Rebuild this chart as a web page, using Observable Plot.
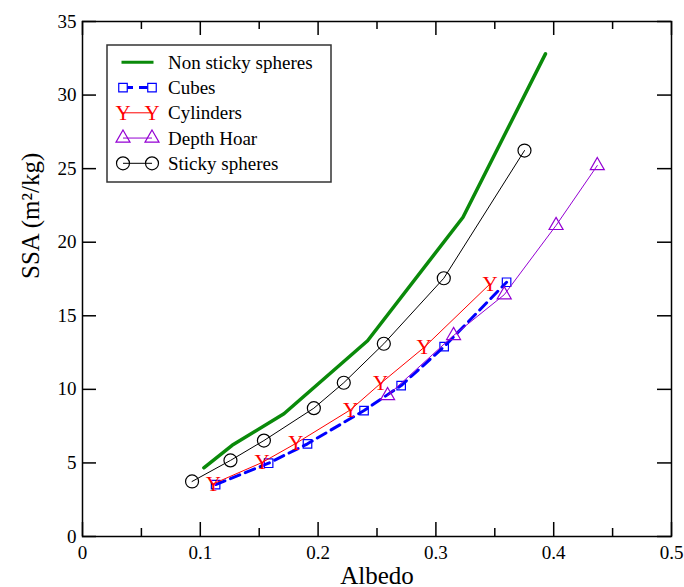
<!DOCTYPE html>
<html><head><meta charset="utf-8">
<script src="https://cdn.jsdelivr.net/npm/d3@7"></script>
<script src="https://cdn.jsdelivr.net/npm/@observablehq/plot@0.6"></script>
<style>
body{margin:0;background:#fff;}
#wrap{position:relative;width:684px;height:587px;overflow:hidden;}
</style></head><body>
<div id="wrap"></div>
<script>
// ---- tick values ----
const xTicks = [0, 0.1, 0.2, 0.3, 0.4, 0.5];
const xMinorTicks = [0.05, 0.15, 0.25, 0.35, 0.45];
const yTicks = [0, 5, 10, 15, 20, 25, 30, 35];

// ---- series ----
const seriesNames = ["Non sticky spheres", "Cubes", "Cylinders", "Depth Hoar", "Sticky spheres"];

const nonStickyAlbedo = [0.103, 0.127, 0.171, 0.242, 0.323, 0.393];
const nonStickySSA    = [4.67, 6.2, 8.34, 13.3, 21.7, 32.8];

const cubesAlbedo = [0.113, 0.158, 0.191, 0.239, 0.2705, 0.307, 0.360];
const cubesSSA    = [3.53, 4.98, 6.30, 8.56, 10.26, 12.91, 17.28];

const cylAlbedo = [0.111, 0.1525, 0.181, 0.2275, 0.253, 0.290, 0.346];
const cylSSA    = [3.58, 5.03, 6.32, 8.61, 10.4, 12.85, 17.17];

const hoarAlbedo = [0.259, 0.315, 0.358, 0.402, 0.437];
const hoarSSA    = [9.58, 13.66, 16.43, 21.14, 25.21];

const stickyAlbedo = [0.093, 0.1256, 0.154, 0.1964, 0.2218, 0.2558, 0.3067, 0.3752];
const stickySSA    = [3.74, 5.17, 6.52, 8.72, 10.45, 13.10, 17.55, 26.23];

const colors = {green: "#0a8a0a", blue: "#0000ff", red: "#ff0000", violet: "#9400d3", black: "#000000"};

const toRows = (xs, ys) => xs.map((x, i) => ({albedo: x, ssa: ys[i]}));
const nonSticky = toRows(nonStickyAlbedo, nonStickySSA);
const cubes = toRows(cubesAlbedo, cubesSSA);
const cyl = toRows(cylAlbedo, cylSSA);
const hoar = toRows(hoarAlbedo, hoarSSA);
const sticky = toRows(stickyAlbedo, stickySSA);

const W = 684, H = 587, mL = 82, mR = 13, mT = 21, mB = 51;
const fw = W - mL - mR, fh = H - mT - mB;
const major = 14, minor = 8;
const serif = "'Liberation Serif', 'Times New Roman', serif";

const chart = Plot.plot({
  width: W, height: H,
  marginLeft: mL, marginRight: mR, marginTop: mT, marginBottom: mB,
  style: {fontFamily: serif, fontSize: "19px", background: "white", color: "black"},
  x: {domain: [0, 0.5]},
  y: {domain: [0, 35]},
  marks: [
    // ticks (inward, on all four sides)
    Plot.tickX(xTicks, {x: d => d, insetTop: fh - major, stroke: "black", strokeWidth: 1.5}),
    Plot.tickX(xTicks, {x: d => d, insetBottom: fh - major, stroke: "black", strokeWidth: 1.5}),
    Plot.tickX(xMinorTicks, {x: d => d, insetTop: fh - minor, stroke: "black", strokeWidth: 1.5}),
    Plot.tickX(xMinorTicks, {x: d => d, insetBottom: fh - minor, stroke: "black", strokeWidth: 1.5}),
    Plot.tickY(yTicks, {y: d => d, insetRight: fw - major, stroke: "black", strokeWidth: 1.5}),
    Plot.tickY(yTicks, {y: d => d, insetLeft: fw - major, stroke: "black", strokeWidth: 1.5}),
    Plot.axisX({ticks: xTicks, tickSize: 0, tickPadding: 9, label: null, tickFormat: d => String(d)}),
    Plot.axisY({ticks: yTicks, tickSize: 0, tickPadding: 6, label: null, tickFormat: d => String(d)}),
    Plot.text(["Albedo"], {frameAnchor: "bottom", lineAnchor: "bottom", dy: 47, fontSize: 25}),
    Plot.text(["SSA (m\u00B2/kg)"], {frameAnchor: "left", rotate: -90, dx: -52, lineAnchor: "middle", fontSize: 25}),
    // series
    Plot.line(nonSticky, {x: "albedo", y: "ssa", stroke: colors.green, strokeWidth: 3.5}),
    Plot.line(cubes, {x: "albedo", y: "ssa", stroke: colors.blue, strokeWidth: 3, strokeDasharray: "10,6"}),
    Plot.dot(cubes, {x: "albedo", y: "ssa", symbol: "square", r: 4.8, stroke: colors.blue, fill: "none", strokeWidth: 1.2}),
    Plot.line(cyl, {x: "albedo", y: "ssa", stroke: colors.red, strokeWidth: 1}),
    Plot.text(cyl, {x: "albedo", y: "ssa", text: () => "Y", fill: colors.red, fontSize: 21, lineAnchor: "middle"}),
    Plot.line(hoar, {x: "albedo", y: "ssa", stroke: colors.violet, strokeWidth: 1}),
    Plot.dot(hoar, {x: "albedo", y: "ssa", symbol: "triangle", r: 5.2, stroke: colors.violet, fill: "none", strokeWidth: 1.2}),
    Plot.line(sticky, {x: "albedo", y: "ssa", stroke: colors.black, strokeWidth: 1}),
    Plot.dot(sticky, {x: "albedo", y: "ssa", r: 6.5, stroke: colors.black, fill: "none", strokeWidth: 1.2}),
    Plot.frame({stroke: "black", strokeWidth: 1.5})
  ]
});
document.getElementById("wrap").appendChild(chart);

// ---- legend (overlay inside the frame) ----
const leg = d3.select("#wrap").append("svg")
  .attr("width", 228).attr("height", 141)
  .style("position", "absolute").style("left", "106px").style("top", "44px")
  .style("font-family", serif);
leg.append("rect").attr("x", 1).attr("y", 1).attr("width", 224).attr("height", 137)
  .attr("fill", "white").attr("stroke", "#333").attr("stroke-width", 1.5);
const rowY = i => 18.3 + i * 25.25;
const mx1 = 17, mx2 = 46, tx = 62;
seriesNames.forEach((name, i) => {
  const y = rowY(i);
  const g = leg.append("g");
  if (i === 0) {
    g.append("line").attr("x1", 15.5).attr("x2", 47.5).attr("y1", y).attr("y2", y)
      .attr("stroke", colors.green).attr("stroke-width", 3);
  } else if (i === 1) {
    g.append("line").attr("x1", mx1).attr("x2", mx2).attr("y1", y).attr("y2", y)
      .attr("stroke", colors.blue).attr("stroke-width", 3).attr("stroke-dasharray", "10,6");
    [mx1, mx2].forEach(x => g.append("path").attr("d", d3.symbol(d3.symbolSquare, Math.PI * 4.8 * 4.8)())
      .attr("transform", `translate(${x},${y})`).attr("fill", "white").attr("stroke", colors.blue).attr("stroke-width", 1.2));
  } else if (i === 2) {
    g.append("line").attr("x1", mx1).attr("x2", mx2).attr("y1", y).attr("y2", y)
      .attr("stroke", colors.red).attr("stroke-width", 1);
    [mx1, mx2].forEach(x => g.append("text").attr("x", x).attr("y", y).attr("dy", "0.32em")
      .attr("text-anchor", "middle").attr("fill", colors.red).attr("font-size", 21).text("Y"));
  } else if (i === 3) {
    g.append("line").attr("x1", mx1).attr("x2", mx2).attr("y1", y).attr("y2", y)
      .attr("stroke", colors.violet).attr("stroke-width", 1);
    [mx1, mx2].forEach(x => g.append("path").attr("d", d3.symbol(d3.symbolTriangle, Math.PI * 5.2 * 5.2)())
      .attr("transform", `translate(${x},${y})`).attr("fill", "none").attr("stroke", colors.violet).attr("stroke-width", 1.2));
  } else {
    g.append("line").attr("x1", mx1).attr("x2", mx2).attr("y1", y).attr("y2", y)
      .attr("stroke", colors.black).attr("stroke-width", 1);
    [mx1, mx2].forEach(x => g.append("circle").attr("cx", x).attr("cy", y).attr("r", 6.5)
      .attr("fill", "none").attr("stroke", colors.black).attr("stroke-width", 1.2));
  }
  g.append("text").attr("x", tx).attr("y", y).attr("dy", "0.34em").attr("font-size", 19)
    .attr("fill", "black").text(name);
});
</script>
</body></html>
